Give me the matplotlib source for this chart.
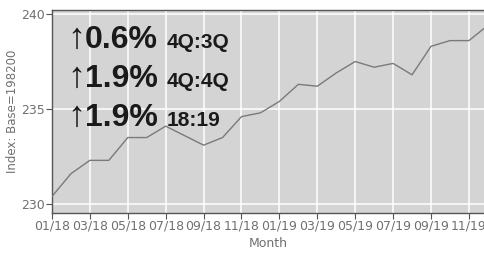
import matplotlib.pyplot as plt
import numpy as np

months = ['01/18', '02/18', '03/18', '04/18', '05/18', '06/18', '07/18', '08/18',
          '09/18', '10/18', '11/18', '12/18', '01/19', '02/19', '03/19', '04/19',
          '05/19', '06/19', '07/19', '08/19', '09/19', '10/19', '11/19', '12/19']
index_values = [230.4, 231.6, 232.3, 232.3, 233.5, 233.5, 234.1, 233.6,
                233.1, 233.5, 234.6, 234.8, 235.4, 236.3, 236.2, 236.9,
                237.5, 237.2, 237.4, 236.8, 238.3, 238.6, 238.6, 239.4]
changes = ['0.6%', '1.9%', '1.9%']
periods = ['4Q:3Q', '4Q:4Q', '18:19']

fig = plt.figure(figsize=(4.85, 2.54), dpi=100)
ax = fig.add_axes([0.1072, 0.1614, 0.8928, 0.7992])

x = np.arange(len(months))
ax.plot(x, index_values, color='#7a7a7a', linewidth=1.0, zorder=3)

ax.set_facecolor('#d4d4d4')
ax.set_xlim(0, 22.85)
ax.set_ylim(229.53, 240.21)
ax.set_xticks(x[::2])
ax.set_xticklabels(months[::2])
ax.set_yticks([230, 235, 240])
ax.grid(True, color='white', linewidth=1.1)
ax.set_axisbelow(True)

for s in ['left', 'bottom', 'top']:
    ax.spines[s].set_color('#555555')
    ax.spines[s].set_linewidth(1.0)
ax.spines['right'].set_visible(False)
ax.tick_params(colors='#555555', labelcolor='#707070', labelsize=9,
               length=4, width=0.8, pad=1)

ax.set_xlabel('Month', color='#707070', fontsize=9, labelpad=3)
ax.set_ylabel('Index: Base=198200', color='#707070', fontsize=8.5, labelpad=2)

# headline figures
font = ['Liberation Sans', 'DejaVu Sans']
baselines = [48, 87, 126]
for chg, per, yb in zip(changes, periods, baselines):
    yf = 1 - yb / 254
    fig.text(67 / 485, yf, '\u2191', fontsize=26, family=font,
             color='#1a1a1a', va='baseline')
    fig.text(85 / 485, yf, chg, fontsize=23, fontweight='bold', family=font,
             color='#1a1a1a', va='baseline')
    fig.text(167 / 485, yf, per, fontsize=15, fontweight='bold', family=font,
             color='#1a1a1a', va='baseline')

fig.savefig('out.png', dpi=100)
